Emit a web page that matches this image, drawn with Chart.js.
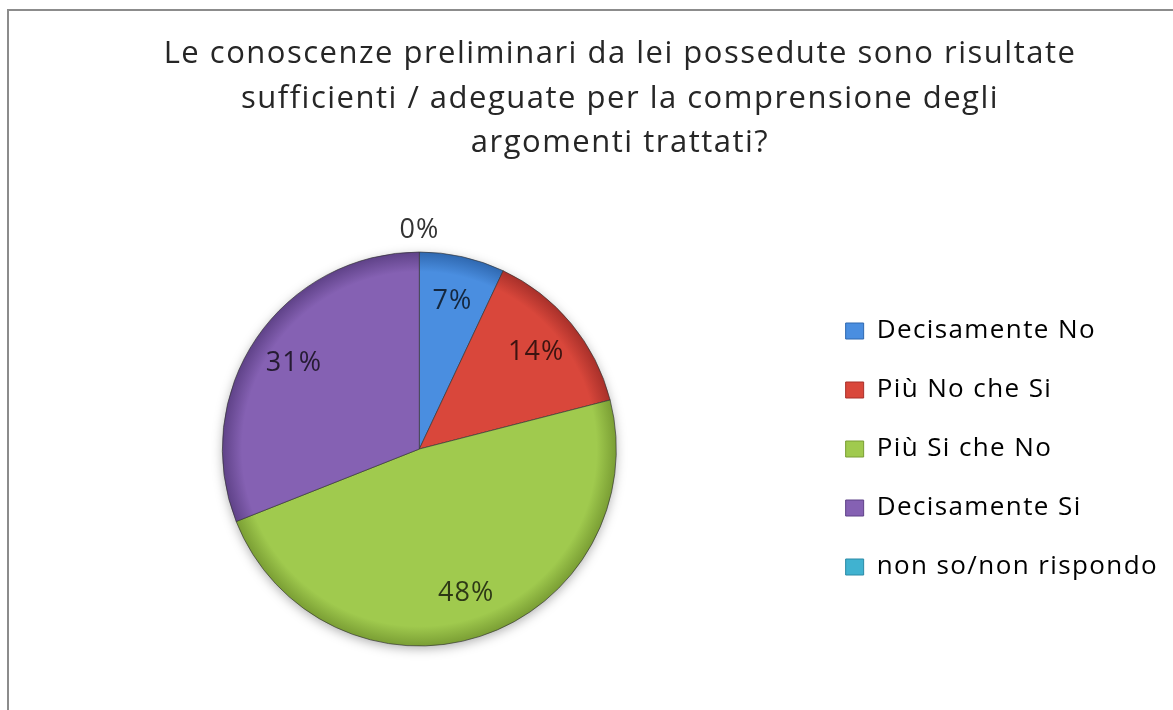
<!DOCTYPE html>
<html><head><meta charset="utf-8">
<script src="https://cdn.jsdelivr.net/npm/chart.js@4/dist/chart.umd.min.js"></script>
<style>html,body{margin:0;padding:0;background:#fff;}canvas{display:block;}</style>
</head><body>
<canvas id="c" width="1173" height="710"></canvas>
<script>
const titleLines = ["Le conoscenze preliminari da lei possedute sono risultate", "sufficienti / adeguate per la comprensione degli", "argomenti trattati?"];
const categories = ["Decisamente No", "Più No che Si", "Più Si che No", "Decisamente Si", "non so/non rispondo"];
const values = [7, 14, 48, 31, 0];
const sliceColors = ["#4a8ee0", "#d9473b", "#a0ca4e", "#8561b3", "#40b2d0"];
const rimColors = ["#2f68b0", "#a8302a", "#7a9e34", "#5f4288", "#2a8aa6"];
const FONT = "'Open Sans', 'DejaVu Sans', sans-serif";
const PIE_R = 197;

function sliceFill(ctx) {
  const chart = ctx.chart, a = chart.chartArea, i = ctx.dataIndex;
  if (!a) return sliceColors[i];
  const cx = (a.left + a.right) / 2, cy = (a.top + a.bottom) / 2;
  const g = chart.ctx.createRadialGradient(cx, cy, 0, cx, cy, PIE_R);
  g.addColorStop(0, sliceColors[i]);
  g.addColorStop(0.9, sliceColors[i]);
  g.addColorStop(1, rimColors[i]);
  return g;
}

const spacing = {
  id: 'spacing',
  beforeUpdate(chart) { chart.ctx.letterSpacing = '1.4px'; }
};

const frame = {
  id: 'frame',
  beforeDraw(chart) {
    const c = chart.ctx;
    c.save();
    c.strokeStyle = '#8c8c8c';
    c.lineWidth = 2;
    c.beginPath();
    c.moveTo(8, 710); c.lineTo(8, 10); c.lineTo(1173, 10);
    c.stroke();
    c.fillStyle = '#262626';
    c.font = "31px " + FONT;
    c.letterSpacing = '1.5px';
    c.textAlign = 'center';
    c.textBaseline = 'alphabetic';
    titleLines.forEach((t, k) => c.fillText(t, 620, 63 + k * 44.5));
    c.restore();
  },
  beforeDatasetsDraw(chart) {
    const a = chart.chartArea, c = chart.ctx;
    const cx = (a.left + a.right) / 2, cy = (a.top + a.bottom) / 2;
    c.save();
    c.shadowColor = 'rgba(0,0,0,0.35)';
    c.shadowBlur = 12;
    c.shadowOffsetX = 0;
    c.shadowOffsetY = 3;
    c.fillStyle = '#ffffff';
    c.beginPath();
    c.arc(cx, cy, PIE_R - 1, 0, Math.PI * 2);
    c.fill();
    c.restore();
  }
};

const sliceLabels = {
  id: 'sliceLabels',
  afterDatasetsDraw(chart) {
    const c = chart.ctx;
    const meta = chart.getDatasetMeta(0);
    const total = values.reduce((s, v) => s + v, 0);
    c.save();
    c.font = "27px " + FONT;
    c.letterSpacing = '1px';
    c.textAlign = 'center';
    c.textBaseline = 'middle';
    meta.data.forEach((arc, i) => {
      const p = arc.getProps(['x', 'y', 'startAngle', 'endAngle', 'outerRadius'], true);
      const mid = (p.startAngle + p.endAngle) / 2;
      const r = values[i] === 0 ? p.outerRadius + 22 : p.outerRadius * 0.77;
      c.fillStyle = values[i] === 0 ? '#333333' : 'rgba(0,0,0,0.72)';
      const txt = Math.round(values[i] / total * 100) + '%';
      c.fillText(txt, p.x + r * Math.cos(mid), p.y + r * Math.sin(mid));
    });
    c.restore();
  }
};

new Chart(document.getElementById('c'), {
  type: 'pie',
  data: {
    labels: categories,
    datasets: [{
      data: values,
      backgroundColor: sliceFill,
      borderColor: 'rgba(50,50,50,0.65)',
      borderWidth: 1,
      hoverOffset: 0,
      radius: PIE_R
    }]
  },
  options: {
    responsive: false,
    animation: false,
    events: [],
    layout: { padding: { top: 252, bottom: 64, left: 26, right: 5 } },
    plugins: {
      title: { display: false },
      tooltip: { enabled: false },
      legend: {
        position: 'right',
        labels: {
          font: { family: FONT, size: 26 },
          color: '#1a1a1a',
          boxWidth: 18,
          boxHeight: 16,
          padding: 33,
          generateLabels: (chart) => categories.map((t, i) => ({
            text: t, fillStyle: sliceColors[i], strokeStyle: rimColors[i], lineWidth: 1, hidden: false, index: i
          }))
        }
      }
    }
  },
  plugins: [spacing, frame, sliceLabels]
});
</script>
</body></html>
